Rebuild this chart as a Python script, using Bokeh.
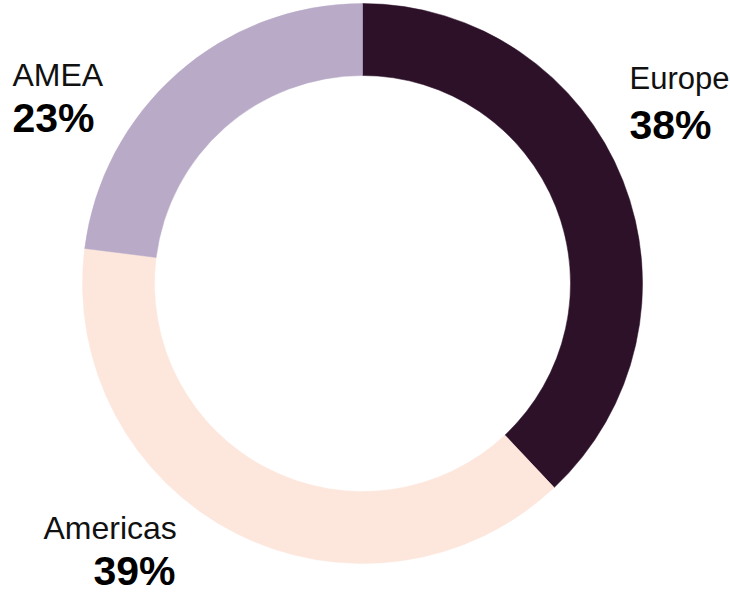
import math
from bokeh.plotting import figure
from bokeh.models import Range1d, ColumnDataSource
from bokeh.core.properties import value
from bokeh.embed import file_html
from bokeh.resources import INLINE

# ---- data ----
regions = ["Europe", "Americas", "AMEA"]
shares = [38, 39, 23]
colors = ["#2d1129", "#fde7dc", "#b9abc8"]

W, H = 730, 594
# data coordinates == page pixels (x), y measured upward from page bottom
p = figure(width=W, height=H, output_backend="svg", toolbar_location=None,
           x_range=Range1d(0, W), y_range=Range1d(0, H),
           min_border=0, background_fill_color="white", border_fill_color="white")
p.axis.visible = False
p.grid.visible = False
p.outline_line_color = None

cx, cy = 362, H - 283
R_out, R_in = 280, 208

total = sum(shares)
starts, ends = [], []
acc = 0.0
for s in shares:
    starts.append(math.pi / 2 - 2 * math.pi * acc / total)
    acc += s
    ends.append(math.pi / 2 - 2 * math.pi * acc / total)

src = ColumnDataSource(dict(region=regions, share=shares, color=colors,
                            start=starts, end=ends))
p.annular_wedge(x=cx, y=cy, inner_radius=R_in, outer_radius=R_out,
                start_angle="start", end_angle="end", direction="clock",
                fill_color="color", line_color="color", line_width=0.5,
                source=src)

# label positions (page px: left x, baseline y, font size)
name_pos = {"Europe": (629, 89, 31), "Americas": (43, 539, 32), "AMEA": (12, 86, 32)}
pct_pos = {"Europe": (629, 139), "Americas": (93, 585), "AMEA": (12, 132)}
PCT_FS = 41
SHIFT = 0.35  # compensation for baseline placement, in em

font = value("Liberation Sans")
for r, s in zip(regions, shares):
    nx, ny, fs = name_pos[r]
    p.text(x=[nx], y=[H - (ny - SHIFT * fs)], text=[r], text_font=font,
           text_font_size=f"{fs}px", text_color="#111111",
           text_align="left", text_baseline="alphabetic")
    px_, py_ = pct_pos[r]
    p.text(x=[px_], y=[H - (py_ - SHIFT * PCT_FS)], text=[f"{s}%"], text_font=font,
           text_font_size=f"{PCT_FS}px", text_font_style="bold", text_color="#000000",
           text_align="left", text_baseline="alphabetic")

open("out.html", "w").write(file_html(p, INLINE))
